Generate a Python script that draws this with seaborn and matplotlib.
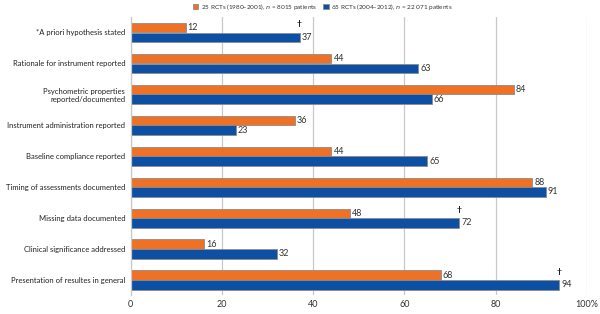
import pandas as pd
import matplotlib.pyplot as plt
import seaborn as sns

# ========== DATA ==========
items = [
    "*A priori hypothesis stated",
    "Rationale for instrument reported",
    "Psychometric properties\nreported/documented",
    "Instrument administration reported",
    "Baseline compliance reported",
    "Timing of assessments documented",
    "Missing data documented",
    "Clinical significance addressed",
    "Presentation of resultes in general",
]
old_rcts = [12, 44, 84, 36, 44, 88, 48, 16, 68]
new_rcts = [37, 63, 66, 23, 65, 91, 72, 32, 94]
dagger = [True, False, False, False, False, False, True, False, True]

series = ["25 RCTs (1980\u20132001), $\\it{n}$ = 8015 patients",
          "65 RCTs (2004\u20132012), $\\it{n}$ = 22 071 patients"]

df = pd.DataFrame({
    "item": items * 2,
    "pct": old_rcts + new_rcts,
    "group": [series[0]] * len(items) + [series[1]] * len(items),
})

# ========== PLOT ==========
sns.set_style("white")
plt.rcParams["font.family"] = ["Lato", "DejaVu Sans"]

fig = plt.figure(figsize=(6, 3.14), dpi=100)
ax = fig.add_axes([0.218, 0.059, 0.76, 0.888])

sns.barplot(
    data=df, x="pct", y="item", hue="group", orient="h",
    palette=["#EE7125", "#0D4FA3"], saturation=1, width=0.64, gap=0.08,
    edgecolor="#8c8c8c", linewidth=0.6, ax=ax, legend=True,
)

ax.set_xlim(0, 100)
ax.set_xticks([0, 20, 40, 60, 80, 100])
ax.set_xticklabels(["0", "20", "40", "60", "80", "100%"], fontsize=6.5, color="#333333")
ax.tick_params(axis="y", labelsize=5.5, length=0, pad=4, labelcolor="#222222")
ax.tick_params(axis="x", length=0, pad=3)
ax.set_xlabel("")
ax.set_ylabel("")
ax.xaxis.grid(True, color="#c8c8c8", linewidth=0.9)
ax.set_axisbelow(True)
for s in ["top", "right", "bottom"]:
    ax.spines[s].set_visible(False)
ax.spines["left"].set_color("#c8c8c8")
ax.spines["left"].set_linewidth(0.9)

for cont in ax.containers:
    ax.bar_label(cont, fontsize=6.5, padding=1.5, color="#333333")

# daggers above the 2004-2012 bars
for i, (v, d) in enumerate(zip(new_rcts, dagger)):
    if d:
        ax.text(v, i - 0.27, "\u2020", ha="center", va="center", fontsize=6,
                fontweight="bold", color="#222222")

leg = ax.legend(
    loc="center left", bbox_to_anchor=(0.13, 1.035), ncol=2, frameon=False,
    fontsize=4.6, handlelength=0.9, handleheight=0.9, handletextpad=0.35,
    columnspacing=1.0, borderaxespad=0,
)
for t in leg.get_texts():
    t.set_color("#333333")

fig.savefig("out.png", dpi=100)
plt.close()
